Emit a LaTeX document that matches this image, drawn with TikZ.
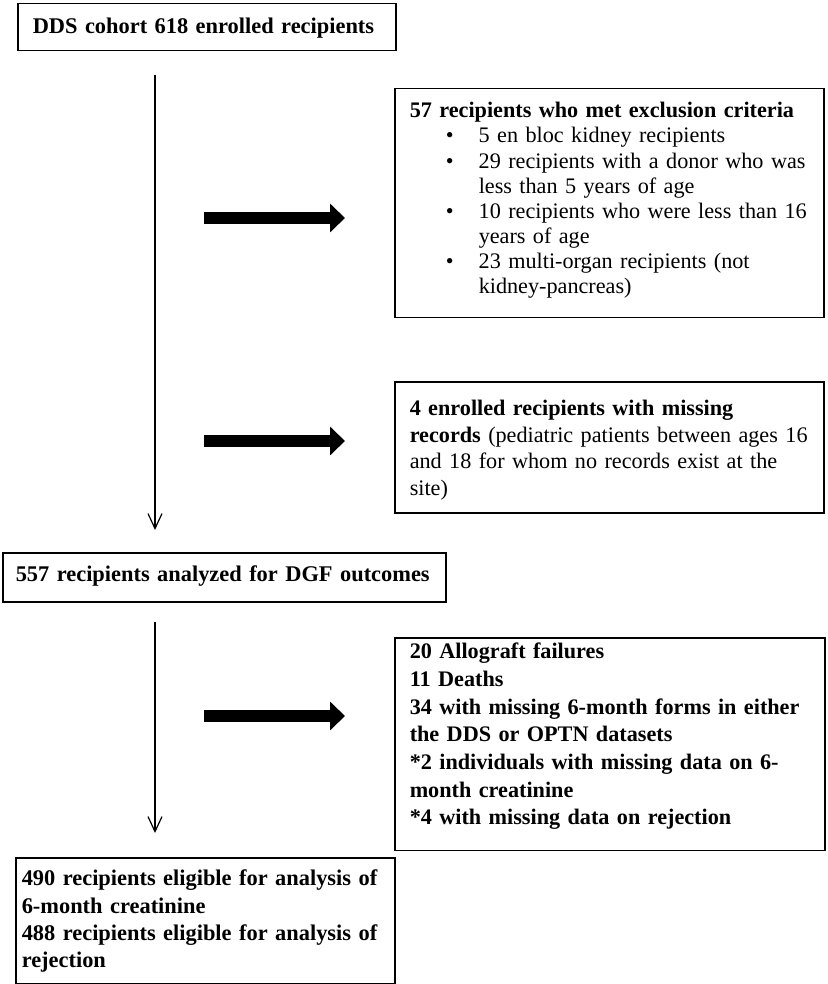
\documentclass[tikz,border=0pt]{standalone}
\usepackage{fontspec}
\setmainfont{Liberation Serif}
\usetikzlibrary{positioning}
\usetikzlibrary{arrows.meta}

\newcommand{\itm}[1]{\mbox{\hspace*{18pt}\makebox[16.5pt][l]{\textbullet}#1}}
\newcommand{\cnt}[1]{\mbox{\hspace*{34.5pt}#1}}
\newcommand{\topgap}[1]{\rule{0pt}{#1}}
\newcommand{\botgap}[1]{\rule[-#1]{0pt}{#1}}

\begin{document}
\begin{tikzpicture}[x=0.5pt,y=-0.5pt,box/.style={draw, line width=0.75pt, anchor=north west, align=left, inner xsep=7.5pt, inner ysep=0pt, font=\fontsize{11.2pt}{13.5pt}\selectfont},bbox/.style={box, font=\fontsize{11.2pt}{13.5pt}\selectfont\bfseries},flow/.style={-{Straight Barb[length=7.5pt,width=7pt]}, line width=0.6pt},bigarrow/.style={-{Triangle[length=7.5pt,width=14pt]}, line width=6pt}]
	\useasboundingbox (0,0) rectangle (827,984);

	% nodes
	\node[bbox, text width=174pt] (cohort) at (17,3) {\topgap{15pt}\mbox{DDS cohort 618 enrolled recipients}\botgap{8.5pt}};
	\node[box, text width=199.5pt, font=\fontsize{11.1pt}{12.57pt}\selectfont] (excl) at (394,88) {\topgap{14.5pt}\mbox{\textbf{57 recipients who met exclusion criteria}}\\
		\itm{5 en bloc kidney recipients}\\
		\itm{29 recipients with a donor who was}\\
		\cnt{less than 5 years of age}\\
		\itm{10 recipients who were less than 16}\\
		\cnt{years of age}\\
		\itm{23 multi-organ recipients (not}\\
		\cnt{kidney-pancreas)}\botgap{12pt}};
	\node[box, text width=199.5pt, font=\fontsize{11.1pt}{13.25pt}\selectfont] (miss) at (394,381) {\topgap{17pt}\mbox{\textbf{4 enrolled recipients with missing}}\\
		\mbox{\textbf{records} (pediatric patients between ages 16}\\
		\mbox{and 18 for whom no records exist at the}\\
		site)\botgap{8.75pt}};
	\node[bbox, text width=208.5pt, inner xsep=6.5pt] (dgf) at (2,552) {\topgap{14.5pt}\mbox{557 recipients analyzed for DGF outcomes}\botgap{10pt}};
	\node[bbox, text width=200pt, font=\fontsize{11.1pt}{13.83pt}\selectfont\bfseries] (lost) at (394,637) {\topgap{10.5pt}20 Allograft failures\\
		11 Deaths\\
		\mbox{34 with missing 6-month forms in either}\\
		the DDS or OPTN datasets\\
		\mbox{{*}2 individuals with missing data on 6-}\\
		month creatinine\\
		{*}4 with missing data on rejection\botgap{13pt}};
	\node[bbox, text width=183.5pt, inner xsep=3pt, font=\fontsize{11.2pt}{13.67pt}\selectfont\bfseries] (elig) at (15,857) {\topgap{14pt}\mbox{490 recipients eligible for analysis of}\\
		6-month creatinine\\
		\mbox{488 recipients eligible for analysis of}\\
		rejection\botgap{8pt}};

	% arrows
	\coordinate (s1) at (155,75);
	\coordinate (s2) at (155,622);
	\coordinate (t1) at (204,218);
	\coordinate (t2) at (204,441);
	\coordinate (t3) at (204,716);
	\draw [flow] (s1) -- ([yshift=11pt]s1 |- dgf.north);
	\draw [flow] (s2) -- ([yshift=12pt]s2 |- elig.north);
	\draw [bigarrow] (t1) -- ++(141,0);
	\draw [bigarrow] (t2) -- ++(141,0);
	\draw [bigarrow] (t3) -- ++(141,0);
\end{tikzpicture}
\end{document}
